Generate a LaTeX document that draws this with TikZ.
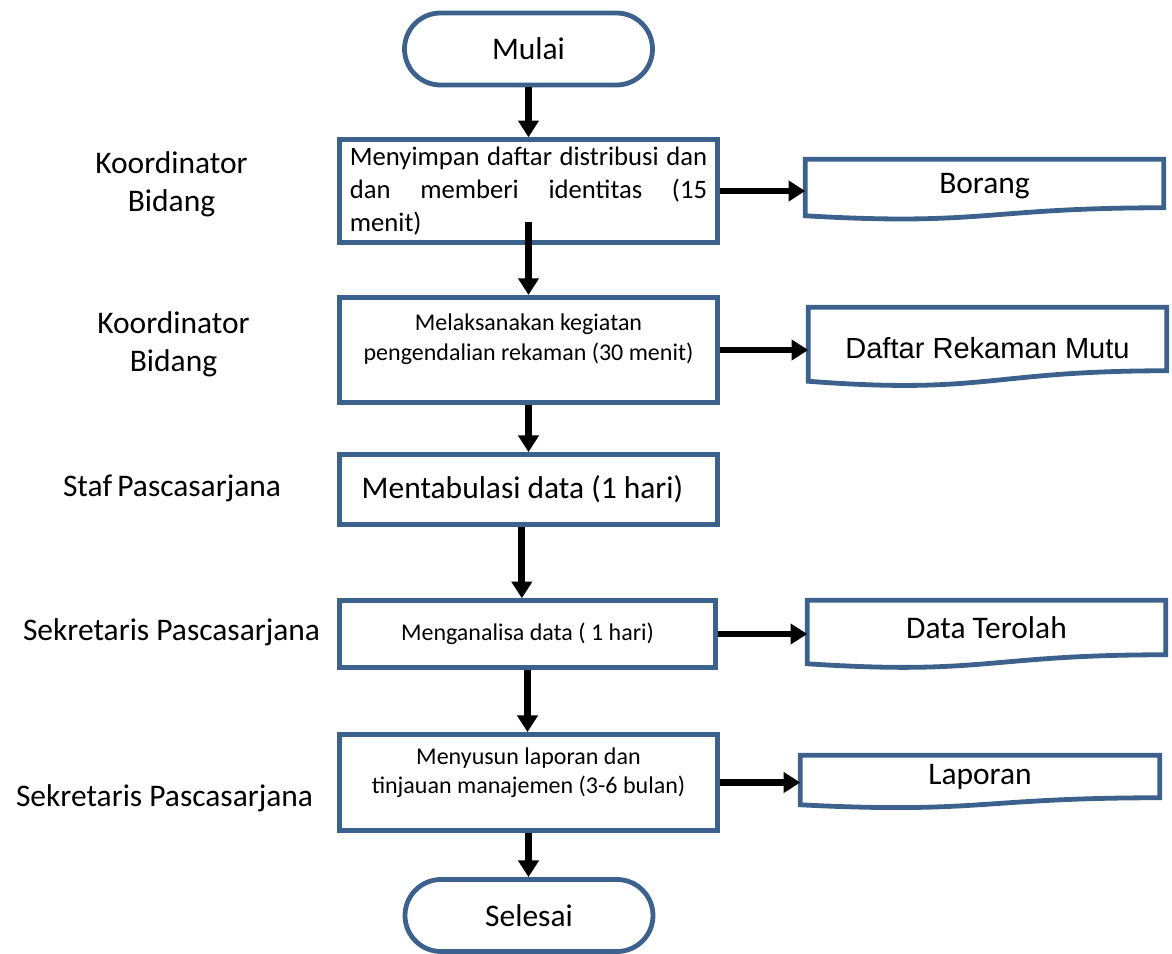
\documentclass[tikz,border=0pt]{standalone}
\usepackage{fontspec}
\setmainfont{Carlito}
\newfontfamily\arialfont{Liberation Sans}
\usetikzlibrary{arrows.meta,calc}
\definecolor{boxblue}{RGB}{60,97,141}

\begin{document}
\begin{tikzpicture}[
    x=0.75pt, y=-0.75pt,
    terminal/.style={
      draw=boxblue,
      line width=3.6pt,
      rounded corners=27pt,
      minimum width=186pt,
      minimum height=54pt,
      font=\fontsize{23.6}{28}\selectfont
    },
    process/.style={
      draw=boxblue,
      line width=3.6pt,
      minimum width=283.5pt,
      align=center,
      font=\fontsize{18}{22.5}\selectfont
    },
    docshape/.style={
      minimum width=268.5pt,
      font=\fontsize{23.6}{28}\selectfont
    },
    role/.style={
      align=center,
      font=\fontsize{23.6}{28.5}\selectfont
    },
    arrow/.style={
      line width=5.2pt,
      -{Triangle[length=12.5pt,width=15pt]}
    }
  ]

    \path[fill=white] (0,0) rectangle (1172,954);

    % start and end
    \node[terminal] (start) at (528.5,49) {Mulai};
    \node[terminal] (stop) at (529,915.5) {Selesai};

    % process steps
    \node[process, minimum height=77pt, text width=268pt, align=justify,
      font=\fontsize{20}{24.75}\selectfont] (b1) at (528.5,191)
      {\tolerance=10000 \hyphenpenalty=10000
       Menyimpan daftar distribusi dan\linebreak dan memberi identitas (15\linebreak menit)};
    \node[process, minimum height=79pt, text depth=19pt] (b2) at (528.5,350)
      {Melaksanakan kegiatan\\pengendalian rekaman (30 menit)};
    \node[process, minimum height=52.5pt, font=\fontsize{23.6}{28}\selectfont] (b3) at (528.5,489.5)
      {Mentabulasi data (1 hari)\hspace{9pt}};
    \node[process, minimum width=282pt, minimum height=50pt] (b4) at (527.5,634)
      {Menganalisa data ( 1 hari)};
    \node[process, minimum height=72pt, text depth=18pt,
      font=\fontsize{18}{21.75}\selectfont] (b5) at (528.5,782.5)
      {Menyusun laporan dan\\tinjauan manajemen (3-6 bulan)};

    % output documents
    \node[docshape, minimum height=36pt, text height=19pt] (d1) at (984.5,183.5) {Borang};
    \node[docshape, minimum height=47.25pt, text height=30pt,
      font=\arialfont\fontsize{21.8}{26}\selectfont] (d2) at (987.5,339) {Daftar Rekaman Mutu};
    \node[docshape, minimum height=40.5pt] (d3) at (986.5,627.5) {Data Terolah};
    \node[docshape, minimum width=269.25pt, minimum height=31.5pt] (d4) at (980,776.5) {Laporan};

    \foreach \d in {d1,d2,d3,d4}
      \draw[boxblue, line width=3.6pt]
        (\d.north west) -- (\d.north east) -- (\d.south east)
        .. controls (\d.south) and ($(\d.south)!-0.38!(\d.north)$)
        .. ($(\d.south west)!-0.165!(\d.north west)$) -- cycle;

    % who does it
    \node[role] (r1) at (171.5,184) {Koordinator\\Bidang};
    \node[role] (r2) at (173.5,344) {Koordinator\\Bidang};
    \node[role] (r3) at (172,488) {Staf\,Pascasarjana};
    \node[role] (r4) at (171.5,632) {Sekretaris Pascasarjana};
    \node[role] (r5) at (164.5,798) {Sekretaris Pascasarjana};

    % flow
    \draw[arrow] (start.south) -- (b1.north);
    \draw[arrow] ([yshift=17pt]b1.south) -- (b2.north);
    \draw[arrow] (b2.south) -- (b3.north);
    \draw[arrow] ([xshift=-5pt]b3.south) -- ([xshift=-5pt]b3.south |- b4.north);
    \draw[arrow] (b4.south) -- (b4.south |- b5.north);
    \draw[arrow] (b5.south) -- (b5.south |- stop.north);

    \draw[arrow] (b1.east) -- (b1.east -| d1.west);
    \draw[arrow] (b2.east) -- (b2.east -| d2.west);
    \draw[arrow] (b4.east) -- (b4.east -| d3.west);
    \draw[arrow] (b5.east) -- (b5.east -| d4.west);

  \end{tikzpicture}
\end{document}
